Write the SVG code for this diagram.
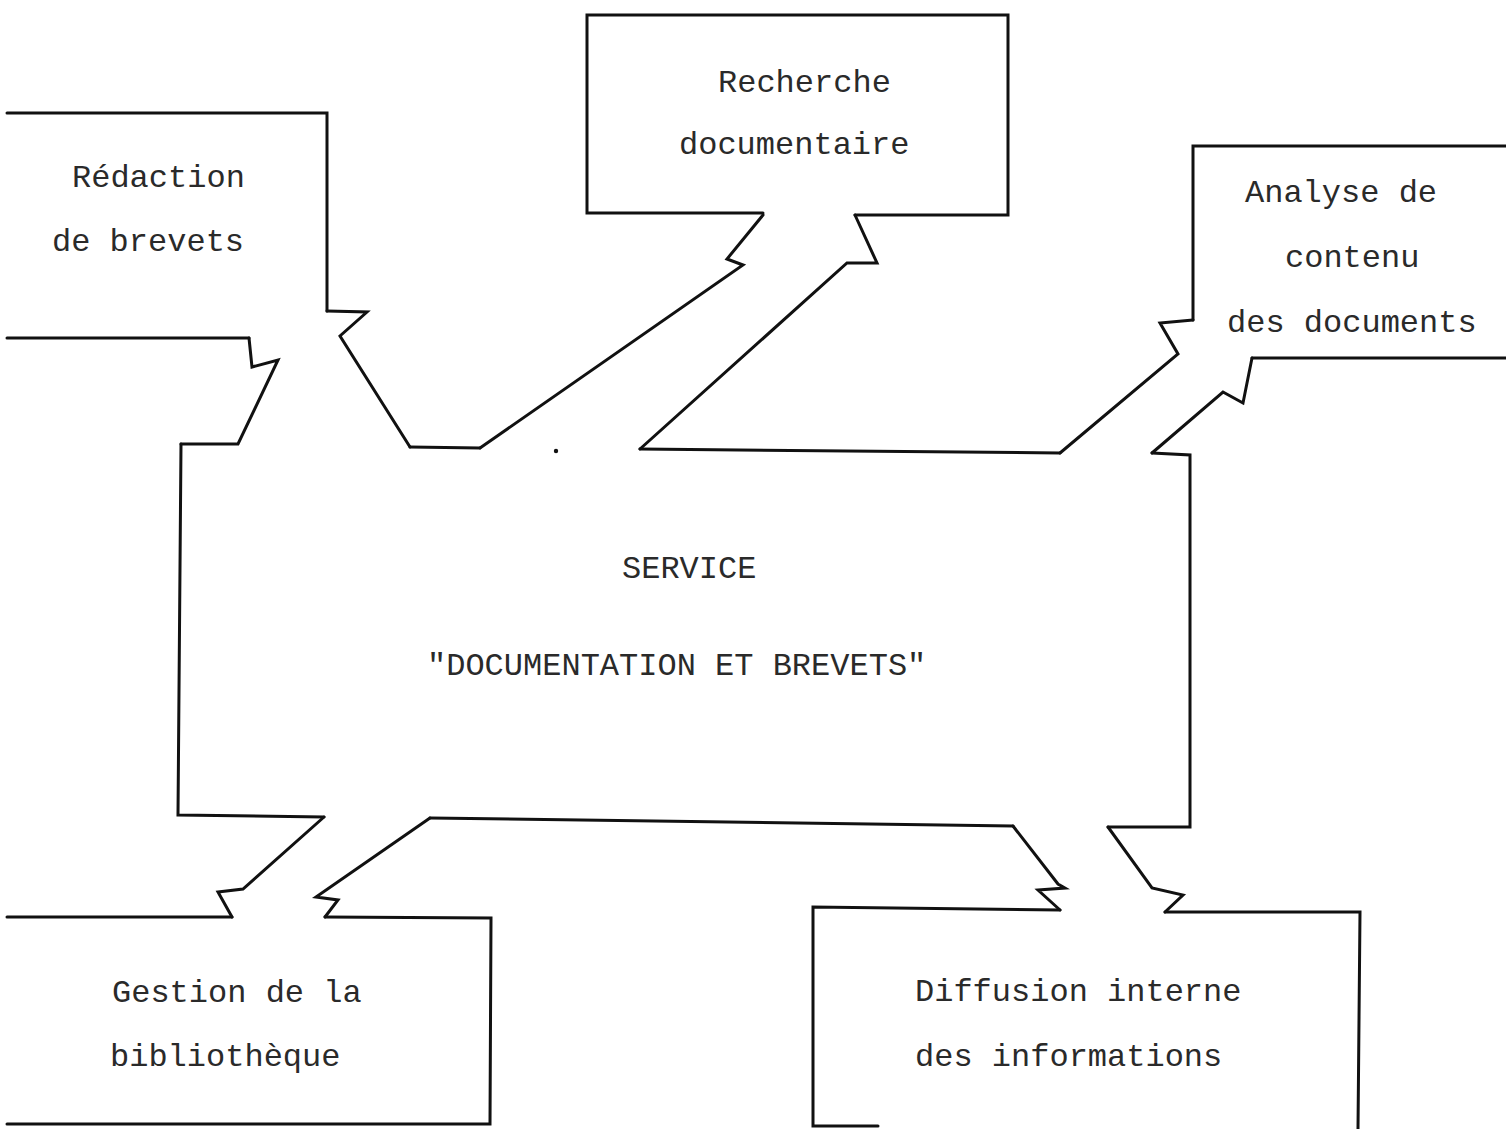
<svg xmlns="http://www.w3.org/2000/svg" width="1506" height="1129" viewBox="0 0 1506 1129">
  <style>
    .ln { fill: none; stroke: #111; stroke-width: 3; stroke-linejoin: miter; stroke-linecap: round; }
    .lbl { font-family: "Liberation Mono", "DejaVu Sans Mono", monospace; font-size: 32px; fill: #2a2a2a; }
  </style>
  <rect width="1506" height="1129" fill="#fff"/>

  <!-- Service box (central, outline broken by channels) -->
  <g id="service">
    <path class="ln" d="M181,444 L178,815 L324,817"/>
    <path class="ln" d="M410,447 L480,448"/>
    <path class="ln" d="M640,449 L1060,453"/>
    <path class="ln" d="M1152,453 L1190,455 L1190,827 L1108,827"/>
    <path class="ln" d="M430,818 L1013,826"/>
    <circle cx="556" cy="451" r="2.2" fill="#111"/>
    <text class="lbl" x="622" y="578">SERVICE</text>
    <text class="lbl" x="427" y="675">"DOCUMENTATION ET BREVETS"</text>
  </g>

  <!-- Rédaction de brevets -->
  <g id="redaction">
    <path class="ln" d="M7,113 H327 V311"/>
    <path class="ln" d="M7,338 H249"/>
    <text class="lbl" x="72" y="187">Rédaction</text>
    <text class="lbl" x="52" y="251">de brevets</text>
  </g>

  <!-- Recherche documentaire -->
  <g id="recherche">
    <path class="ln" d="M763,213 H587 V15 H1008 V215 H855"/>
    <text class="lbl" x="718" y="92">Recherche</text>
    <text class="lbl" x="679" y="154">documentaire</text>
  </g>

  <!-- Analyse de contenu des documents -->
  <g id="analyse">
    <path class="ln" d="M1506,146 H1193 V320"/>
    <path class="ln" d="M1252,358 H1506"/>
    <text class="lbl" x="1245" y="202">Analyse de</text>
    <text class="lbl" x="1285" y="267">contenu</text>
    <text class="lbl" x="1227" y="332">des documents</text>
  </g>

  <!-- Gestion de la bibliothèque -->
  <g id="gestion">
    <path class="ln" d="M7,917 H232"/>
    <path class="ln" d="M325,917 L491,918 L490,1124 H7"/>
    <text class="lbl" x="112" y="1002">Gestion de la</text>
    <text class="lbl" x="110" y="1066">bibliothèque</text>
  </g>

  <!-- Diffusion interne des informations -->
  <g id="diffusion">
    <path class="ln" d="M1060,910 L813,907 V1126 H878"/>
    <path class="ln" d="M1165,912 H1360 L1358,1129"/>
    <text class="lbl" x="915" y="1001">Diffusion interne</text>
    <text class="lbl" x="915" y="1066">des informations</text>
  </g>

  <!-- Channels between the service and each activity, with break marks -->
  <g id="connectors">
    <path class="ln" d="M327,311 L367,312 L340,336 L410,447"/>
    <path class="ln" d="M249,338 L252,367 L278,360 L238,444 L181,444"/>
    <path class="ln" d="M763,215 L727,259 L743,265 L480,448"/>
    <path class="ln" d="M855,215 L877,263 L847,263 L640,449"/>
    <path class="ln" d="M1193,320 L1160,323 L1178,354 L1060,453"/>
    <path class="ln" d="M1252,358 L1243,403 L1223,392 L1152,453"/>
    <path class="ln" d="M324,817 L243,889 L218,892 L232,917"/>
    <path class="ln" d="M430,818 L316,897 L338,900 L325,917"/>
    <path class="ln" d="M1013,826 L1058,884 L1065,888 L1038,890 L1060,910"/>
    <path class="ln" d="M1108,827 L1152,888 L1183,895 L1165,912"/>
  </g>
</svg>
